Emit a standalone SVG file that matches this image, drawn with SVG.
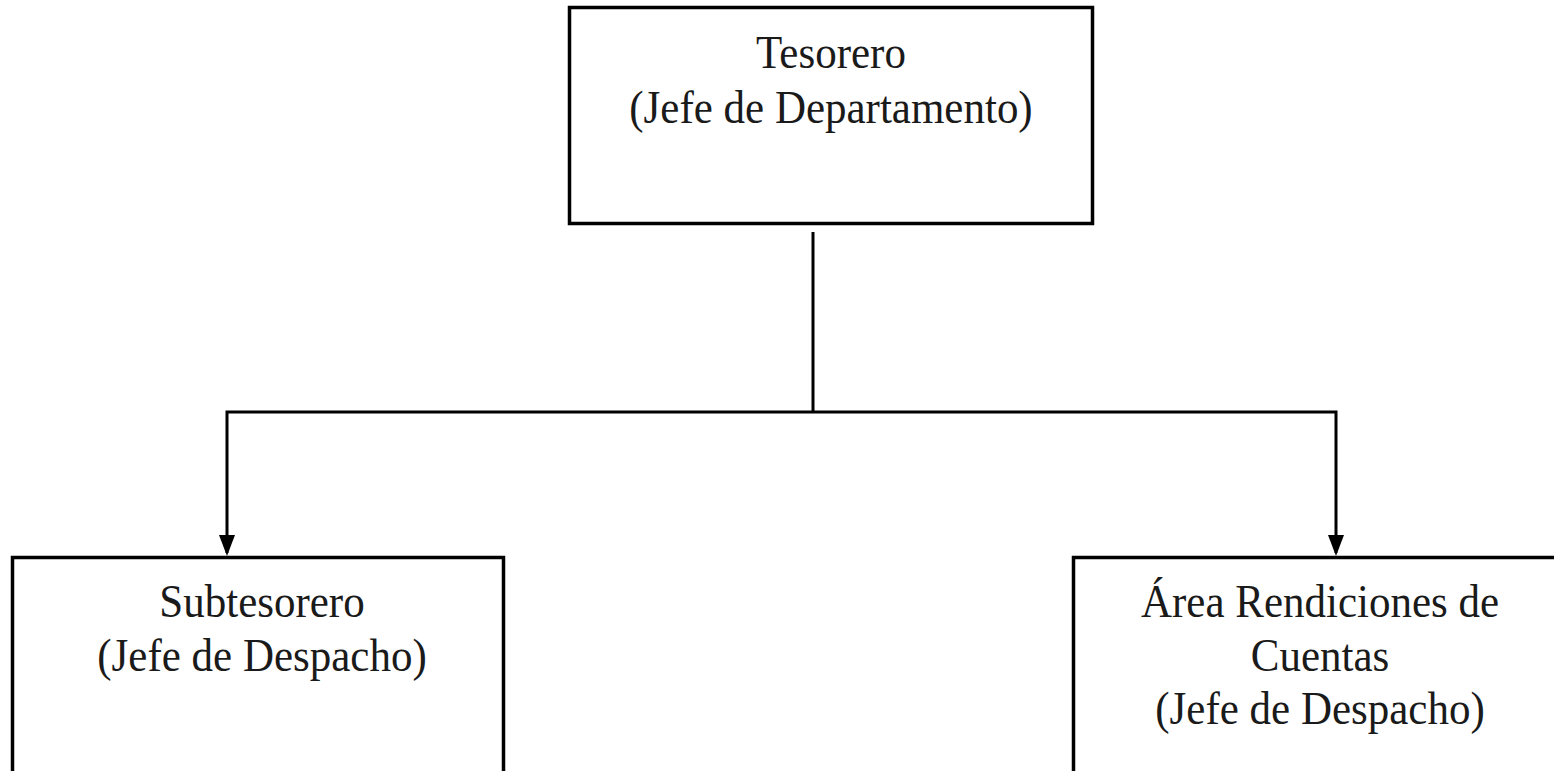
<svg xmlns="http://www.w3.org/2000/svg" width="1554" height="771" viewBox="0 0 1554 771">
<style>
.box{fill:#fff;stroke:#000;stroke-width:3.5}
.lbl{font-family:"Liberation Serif","Times New Roman",serif;font-size:43px;fill:#1a1a1a;text-anchor:middle}
.con{fill:none;stroke:#000;stroke-width:3}
.head{fill:#000}
</style>
<rect width="1554" height="771" fill="#fff"/>
<g id="connectors">
<line class="con" x1="813" y1="232" x2="813" y2="412"/>
<polyline class="con" points="227,553 227,412 1336,412 1336,553"/>
<path class="head" d="M219,535 L235,535 L227,556 Z"/>
<path class="head" d="M1328,535 L1344,535 L1336,556 Z"/>
</g>
<g id="tesorero">
<rect class="box" x="569.5" y="7.5" width="523" height="216"/>
<text class="lbl" transform="translate(831,68) scale(1,1.1)">Tesorero</text>
<text class="lbl" transform="translate(831,123) scale(1,1.1)">(Jefe de Departamento)</text>
</g>
<g id="subtesorero">
<rect class="box" x="12.5" y="557.5" width="491" height="230"/>
<text class="lbl" transform="translate(262,617) scale(1,1.1)">Subtesorero</text>
<text class="lbl" transform="translate(262,671) scale(1,1.1)">(Jefe de Despacho)</text>
</g>
<g id="rendiciones">
<rect class="box" x="1073.5" y="557.5" width="500" height="230"/>
<text class="lbl" transform="translate(1320,617) scale(1,1.1)">Área Rendiciones de</text>
<text class="lbl" transform="translate(1320,671) scale(1,1.1)">Cuentas</text>
<text class="lbl" transform="translate(1320,724) scale(1,1.1)">(Jefe de Despacho)</text>
</g>
</svg>
